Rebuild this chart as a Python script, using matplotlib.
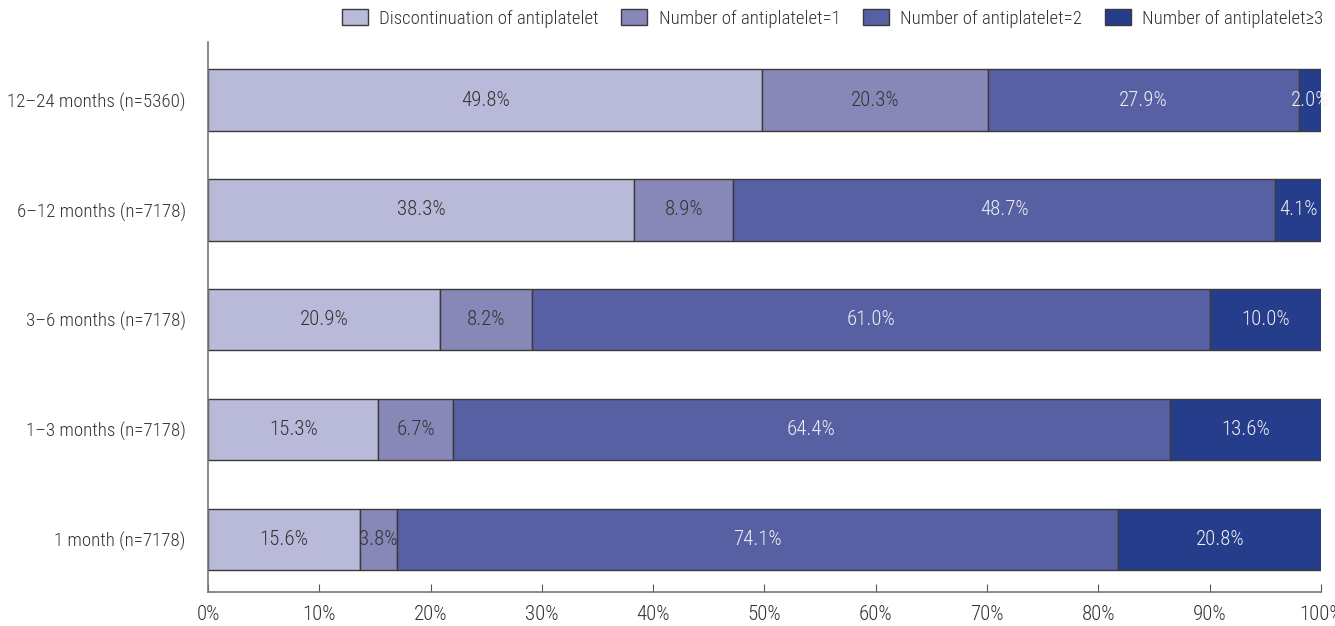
import numpy as np
import matplotlib.pyplot as plt

plt.rcParams['font.family'] = ['Roboto Condensed', 'DejaVu Sans']
plt.rcParams['font.weight'] = 'light'

# Periods (bottom to top)
periods = ['1 month (n=7178)', '1\u20133 months (n=7178)', '3\u20136 months (n=7178)',
           '6\u201312 months (n=7178)', '12\u201324 months (n=5360)']

series_names = ['Discontinuation of antiplatelet', 'Number of antiplatelet=1',
                'Number of antiplatelet=2', 'Number of antiplatelet\u22653']

discontinuation = [15.6, 15.3, 20.9, 38.3, 49.8]
antiplatelet_1 = [3.8, 6.7, 8.2, 8.9, 20.3]
antiplatelet_2 = [74.1, 64.4, 61.0, 48.7, 27.9]
antiplatelet_3 = [20.8, 13.6, 10.0, 4.1, 2.0]

colors = ['#b9b9d9', '#8888b8', '#5860a4', '#263d8c']
text_colors = ['#333333', '#333333', '#f0f0f0', '#f0f0f0']

values = np.array([discontinuation, antiplatelet_1, antiplatelet_2, antiplatelet_3])
# bars are drawn as share of the row total
shares = values / values.sum(axis=0) * 100

fig = plt.figure(figsize=(13.35, 6.26), dpi=100)
ax = fig.add_axes([0.1558, 0.0543, 0.8337, 0.8786])

y = np.arange(len(periods))
left = np.zeros(len(periods))
for i in range(4):
    ax.barh(y, shares[i], left=left, height=0.56, color=colors[i],
            edgecolor='#3a3a3a', linewidth=1.0, label=series_names[i])
    for j in range(len(periods)):
        ax.text(left[j] + shares[i][j] / 2, y[j], '%.1f%%' % values[i][j],
                ha='center', va='center', fontsize=15, color=text_colors[i])
    left = left + shares[i]

ax.set_xlim(0, 100)
ax.set_ylim(-0.48, 4.53)
ax.set_xticks(np.arange(0, 101, 10))
ax.set_xticklabels(['%d%%' % v for v in range(0, 101, 10)])
ax.set_yticks(y)
ax.set_yticklabels(periods)
ax.tick_params(axis='x', direction='in', length=6, color='#555555', labelsize=15,
               labelcolor='#333333', pad=9)
ax.tick_params(axis='y', length=0, labelsize=13.7, labelcolor='#333333', pad=16)
for s in ['top', 'right']:
    ax.spines[s].set_visible(False)
for s in ['left', 'bottom']:
    ax.spines[s].set_color('#777777')
    ax.spines[s].set_linewidth(1.2)

fig.legend(loc='upper right', bbox_to_anchor=(1.004, 1.012), ncol=4, frameon=False,
           fontsize=13.5, handlelength=1.4, handleheight=0.9, columnspacing=1.2,
           handletextpad=0.6, labelcolor='#333333')

fig.savefig('out.png', dpi=100)
